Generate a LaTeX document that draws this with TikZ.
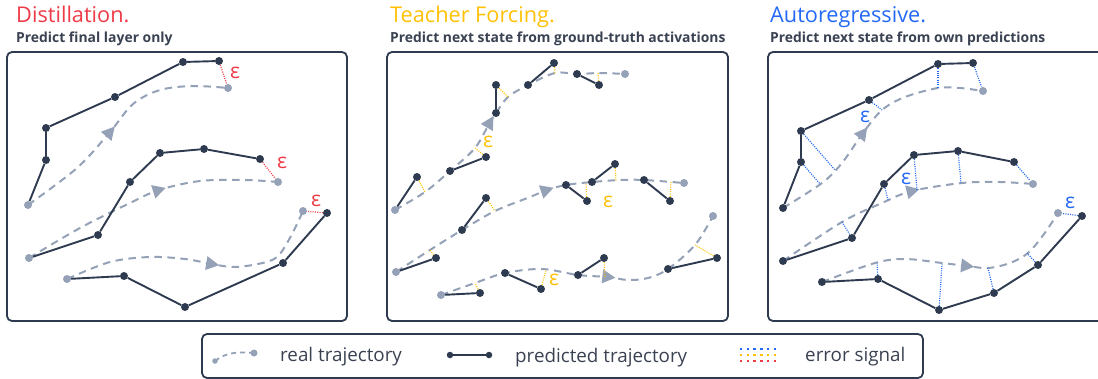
\documentclass[tikz,border=0pt]{standalone}
\usepackage{fontspec}
\setmainfont{Open Sans}
\usetikzlibrary{decorations.markings}
\pgfdeclarelayer{bg}
\pgfsetlayers{bg,main}
\definecolor{dk}{HTML}{2E3A4F}
\definecolor{gr}{HTML}{94A1B7}
\definecolor{rd}{HTML}{EE3B47}
\definecolor{yl}{HTML}{FFC107}
\definecolor{bl}{HTML}{2469F5}
\definecolor{subc}{HTML}{3A4252}
\tikzset{
 pdot/.style={circle, fill=dk, inner sep=0pt, minimum size=8pt},
 rdot/.style={circle, fill=gr, inner sep=0pt, minimum size=8pt},
 pline/.style={draw=dk, line width=1.9pt},
 real/.style={draw=gr, line width=2pt, dash pattern=on 7.5pt off 5.5pt},
 arrowat/.style={postaction={decorate}, decoration={markings, mark=at position #1 with {\fill[gr] (7pt,0pt) -- (-6pt,7pt) -- (-6pt,-7pt) -- cycle;}}},
 errR/.style={draw=rd, line width=1.2pt, dash pattern=on 1pt off 1.3pt},
 errY/.style={draw=yl, line width=1.2pt, dash pattern=on 1pt off 1.3pt},
 errB/.style={draw=bl, line width=1.2pt, dash pattern=on 1pt off 1.3pt},
 panel/.style={draw=dk, line width=1.8pt, rounded corners=5pt},
 ttl/.style={anchor=base west, inner sep=0pt, font=\fontsize{21.7}{24}\selectfont},
 subttl/.style={anchor=base west, inner sep=0pt, text=subc, font=\bfseries\fontsize{13.9}{16}\selectfont},
 eps/.style={inner sep=0pt, font=\fontsize{21}{22}\selectfont},
 legtxt/.style={anchor=base west, inner sep=0pt, text=subc, font=\fontsize{18.8}{20}\selectfont},
 legerr/.style={line width=2.4pt, dash pattern=on 2.4pt off 4.3pt},
}
\begin{document}
\begin{tikzpicture}[x=1pt,y=-1pt]
\useasboundingbox (0,0) rectangle (1098,378);

% ---------- titles ----------
\node[ttl, text=rd] (t1) at (16,22.5) {Distillation.};
\node[subttl] (s1) at (16,42.5) {Predict final layer only};
\node[ttl, text=yl] (t2) at (390,22.5) {Teacher Forcing.};
\node[subttl] (s2) at (390,42.5) {Predict next state from ground-truth activations};
\node[ttl, text=bl] (t3) at (770,22.5) {Autoregressive.};
\node[subttl] (s3) at (770,42.5) {Predict next state from own predictions};

% ---------- panel 1 nodes ----------
\node[rdot] (dA0) at (28,205) {};
\node[pdot] (dA1) at (46,160) {};
\node[pdot] (dA2) at (46,128) {};
\node[pdot] (dA3) at (115,97) {};
\node[pdot] (dA4) at (183,62) {};
\node[pdot] (dA5) at (219,61) {};
\node[rdot] (dAe) at (228,88) {};
\node[eps, text=rd] (dAeps) at (235,73) {ε};

\node[rdot] (dB0) at (29,258) {};
\node[pdot] (dB1) at (98,235) {};
\node[pdot] (dB2) at (130,182) {};
\node[pdot] (dB3) at (160,153) {};
\node[pdot] (dB4) at (204,149) {};
\node[pdot] (dB5) at (260,159) {};
\node[rdot] (dBe) at (278,182) {};
\node[eps, text=rd] (dBeps) at (282,163) {ε};

\node[rdot] (dC0) at (67,279) {};
\node[pdot] (dC1) at (124,276) {};
\node[pdot] (dC2) at (185,307) {};
\node[pdot] (dC3) at (283,263) {};
\node[pdot] (dC4) at (327,213) {};
\node[rdot] (dCe) at (303,211) {};
\node[eps, text=rd] (dCeps) at (316,201) {ε};

% ---------- panel 2 nodes ----------
\node[rdot] (tA0) at (395,210) {};
\node[pdot] (tA1) at (417,177) {};
\node[pdot] (tA2) at (450,171) {};
\node[pdot] (tA3) at (486,157) {};
\node[pdot] (tA4) at (496,113) {};
\node[pdot] (tA5) at (496,85) {};
\node[pdot] (tA6) at (528,85) {};
\node[pdot] (tA7) at (554,63) {};
\node[pdot] (tA8) at (577,74) {};
\node[pdot] (tA9) at (599,85) {};
\node[rdot] (tAe) at (625,74) {};
\coordinate (tAc1) at (425,192);
\coordinate (tAc2) at (475,148);
\coordinate (tAc3) at (508,97);
\coordinate (tAc4) at (555,73);
\coordinate (tAc5) at (598,73);
\node[eps, text=yl] (tAeps) at (488,142) {ε};

\node[rdot] (tB0) at (396,272) {};
\node[pdot] (tB1) at (436,258) {};
\node[pdot] (tB2) at (462,230) {};
\node[pdot] (tB3) at (486,198) {};
\node[pdot] (tB4) at (566,185) {};
\node[pdot] (tB5) at (587,201) {};
\node[pdot] (tB6) at (592,182) {};
\node[pdot] (tB7) at (615,164) {};
\node[pdot] (tB8) at (644,180) {};
\node[pdot] (tB9) at (670,201) {};
\node[rdot] (tBe) at (684,183) {};
\coordinate (tBc1) at (430,250);
\coordinate (tBc2) at (495,211);
\coordinate (tBc3) at (586,183);
\coordinate (tBc4) at (616,181);
\coordinate (tBc5) at (671,182);
\node[eps, text=yl] (tBeps) at (608,202) {ε};

\node[rdot] (tC0) at (441,295) {};
\node[pdot] (tC1) at (480,293) {};
\node[pdot] (tC2) at (505,273) {};
\node[pdot] (tC3) at (541,289) {};
\node[pdot] (tC4) at (578,275) {};
\node[pdot] (tC5) at (604,258) {};
\node[pdot] (tC6) at (668,269) {};
\node[pdot] (tC7) at (717,258) {};
\node[rdot] (tCe) at (713,216) {};
\coordinate (tCc1) at (475,283);
\coordinate (tCc2) at (546,270);
\coordinate (tCc3) at (605,277);
\coordinate (tCc4) at (695,245);
\node[eps, text=yl] (tCeps) at (554,280) {ε};

% ---------- panel 3 nodes ----------
\node[pdot] (aA0) at (783,208) {};
\node[pdot] (aA1) at (801,162) {};
\node[pdot] (aA2) at (801,131) {};
\node[pdot] (aA3) at (869,100) {};
\node[pdot] (aA4) at (938,64) {};
\node[pdot] (aA5) at (973,63) {};
\node[rdot] (aAe) at (983,91) {};
\coordinate (aAc1) at (820,184);
\coordinate (aAc2) at (835,170);
\coordinate (aAc3) at (882,110);
\coordinate (aAc4) at (938,88);
\node[eps, text=bl] (aAeps) at (865,117) {ε};

\node[pdot] (aB0) at (783,261) {};
\node[pdot] (aB1) at (852,238) {};
\node[pdot] (aB2) at (884,184) {};
\node[pdot] (aB3) at (914,155) {};
\node[pdot] (aB4) at (958,151) {};
\node[pdot] (aB5) at (1014,162) {};
\node[rdot] (aBe) at (1033,184) {};
\coordinate (aBc1) at (842,222);
\coordinate (aBc2) at (888,200);
\coordinate (aBc3) at (917,190);
\coordinate (aBc4) at (961,183);
\node[eps, text=bl] (aBeps) at (906,179) {ε};

\node[pdot] (aC0) at (822,282) {};
\node[pdot] (aC1) at (878,279) {};
\node[pdot] (aC2) at (939,310) {};
\node[pdot] (aC3) at (994,293) {};
\node[pdot] (aC4) at (1038,265) {};
\node[pdot] (aC5) at (1082,216) {};
\node[rdot] (aCe) at (1058,213) {};
\coordinate (aCc1) at (877,263);
\coordinate (aCc2) at (942,264);
\coordinate (aCc3) at (988,268);
\coordinate (aCc4) at (1027,253);
\node[eps, text=bl] (aCeps) at (1070,203) {ε};

% ---------- legend nodes ----------
\node[rdot, minimum size=5.5pt] (lr0) at (215,361) {};
\node[rdot, minimum size=7pt] (lr1) at (254,353) {};
\node[legtxt] (lt1) at (280,361) {real trajectory};
\node[pdot, minimum size=6.5pt] (lp0) at (450,355) {};
\node[pdot, minimum size=6.5pt] (lp1) at (489,355) {};
\node[legtxt] (lt2) at (515,362.5) {predicted trajectory};
\coordinate (leB0) at (740,349);
\coordinate (leB1) at (777,349);
\coordinate (leY0) at (740,355);
\coordinate (leY1) at (777,355);
\coordinate (leR0) at (740,361);
\coordinate (leR1) at (777,361);
\node[legtxt] (lt3) at (805,361) {error signal};

\begin{pgfonlayer}{bg}
% boxes
\draw[panel] (7,52) rectangle (347,321);
\draw[panel] (387,52) rectangle (728,321);
\draw[panel] (768,52) rectangle (1110,321);
\draw[panel] (202,334) rectangle (923,378);

% ----- panel 1 -----
\draw[real, arrowat=0.45] plot[smooth, tension=0.55] coordinates {(dA0.center) (77,168) (110,132) (133,104) (160,90) (193,86) (dAe.center)};
\draw[real, arrowat=0.55] plot[smooth, tension=0.55] coordinates {(dB0.center) (80,228) (130,203) (159,190) (200,181) (245,180) (dBe.center)};
\draw[real, arrowat=0.555] plot[smooth, tension=0.55] coordinates {(dC0.center) (110,262) (150,257) (185,259) (212,264) (233,267) (258,264) (277,257) (291,236) (dCe.center)};
\draw[pline] (dA0) -- (dA1) -- (dA2) -- (dA3) -- (dA4) -- (dA5);
\draw[pline] (dB0) -- (dB1) -- (dB2) -- (dB3) -- (dB4) -- (dB5);
\draw[pline] (dC0) -- (dC1) -- (dC2) -- (dC3) -- (dC4);
\draw[errR] (dA5) -- (dAe);
\draw[errR] (dB5) -- (dBe);
\draw[errR] (dC4) -- (dCe);

% ----- panel 2 -----
\draw[real, arrowat=0.46] plot[smooth, tension=0.55] coordinates {(tA0.center) (tAc1) (tA2.center) (tAc2) (490,122) (tA4.center) (tAc3) (tA6.center) (tAc4) (tA8.center) (600,73) (tAe.center)};
\draw[real, arrowat=0.555] plot[smooth, tension=0.55] coordinates {(tB0.center) (tBc1) (tB2.center) (tBc2) (530,197) (547,190) (tB4.center) (tB6.center) (620,180) (tB8.center) (tBe.center)};
\draw[real, arrowat=0.565] plot[smooth, tension=0.55] coordinates {(tC0.center) (tCc1) (tC2.center) (542,269) (tC4.center) (608,277) (628,280) (648,278) (tC6.center) (tCc4) (tCe.center)};
\draw[pline] (tA0) -- (tA1);
\draw[pline] (tA2) -- (tA3);
\draw[pline] (tA4) -- (tA5);
\draw[pline] (tA6) -- (tA7);
\draw[pline] (tA8) -- (tA9);
\draw[errY] (tA1) -- (tAc1);
\draw[errY] (tA3) -- (tAc2);
\draw[errY] (tA5) -- (tAc3);
\draw[errY] (tA7) -- (tAc4);
\draw[errY] (tA9) -- (tAc5);
\draw[pline] (tB0) -- (tB1);
\draw[pline] (tB2) -- (tB3);
\draw[pline] (tB4) -- (tB5);
\draw[pline] (tB6) -- (tB7);
\draw[pline] (tB8) -- (tB9);
\draw[errY] (tB1) -- (tBc1);
\draw[errY] (tB3) -- (tBc2);
\draw[errY] (tB5) -- (tBc3);
\draw[errY] (tB7) -- (tBc4);
\draw[errY] (tB9) -- (tBc5);
\draw[pline] (tC0) -- (tC1);
\draw[pline] (tC2) -- (tC3);
\draw[pline] (tC4) -- (tC5);
\draw[pline] (tC6) -- (tC7);
\draw[errY] (tC1) -- (tCc1);
\draw[errY] (tC3) -- (tCc2);
\draw[errY] (tC5) -- (tCc3);
\draw[errY] (tC7) -- (tCc4);

% ----- panel 3 -----
\draw[real, arrowat=0.45] plot[smooth, tension=0.55] coordinates {(aA0.center) (822,183) (842,163) (863,133) (882,110) (905,97) (938,88) (960,88) (aAe.center)};
\draw[real, arrowat=0.55] plot[smooth, tension=0.55] coordinates {(aB0.center) (842,222) (882,203) (912,191) (962,183) (1000,182) (aBe.center)};
\draw[real, arrowat=0.566] plot[smooth, tension=0.55] coordinates {(aC0.center) (875,263) (905,259) (942,263) (967,266) (988,268) (1010,263) (1028,253) (1044,234) (aCe.center)};
\draw[pline] (aA0) -- (aA1) -- (aA2) -- (aA3) -- (aA4) -- (aA5);
\draw[pline] (aB0) -- (aB1) -- (aB2) -- (aB3) -- (aB4) -- (aB5);
\draw[pline] (aC0) -- (aC1) -- (aC2) -- (aC3) -- (aC4) -- (aC5);
\draw[errB] (aA1) -- (aAc1);
\draw[errB] (aA2) -- (aAc2);
\draw[errB] (aA3) -- (aAc3);
\draw[errB] (aA4) -- (aAc4);
\draw[errB] (aA5) -- (aAe);
\draw[errB] (aB1) -- (aBc1);
\draw[errB] (aB2) -- (aBc2);
\draw[errB] (aB3) -- (aBc3);
\draw[errB] (aB4) -- (aBc4);
\draw[errB] (aB5) -- (aBe);
\draw[errB] (aC1) -- (aCc1);
\draw[errB] (aC2) -- (aCc2);
\draw[errB] (aC3) -- (aCc3);
\draw[errB] (aC4) -- (aCc4);
\draw[errB] (aC5) -- (aCe);

% ----- legend -----
\draw[draw=gr, line width=1.8pt, dash pattern=on 5pt off 4pt] (lr0.center) .. controls (224,354) and (234,351) .. (lr1.center);
\draw[pline] (lp0) -- (lp1);
\draw[legerr, draw=bl] (leB0) -- (leB1);
\draw[legerr, draw=yl] (leY0) -- (leY1);
\draw[legerr, draw=rd] (leR0) -- (leR1);
\end{pgfonlayer}
\end{tikzpicture}
\end{document}
